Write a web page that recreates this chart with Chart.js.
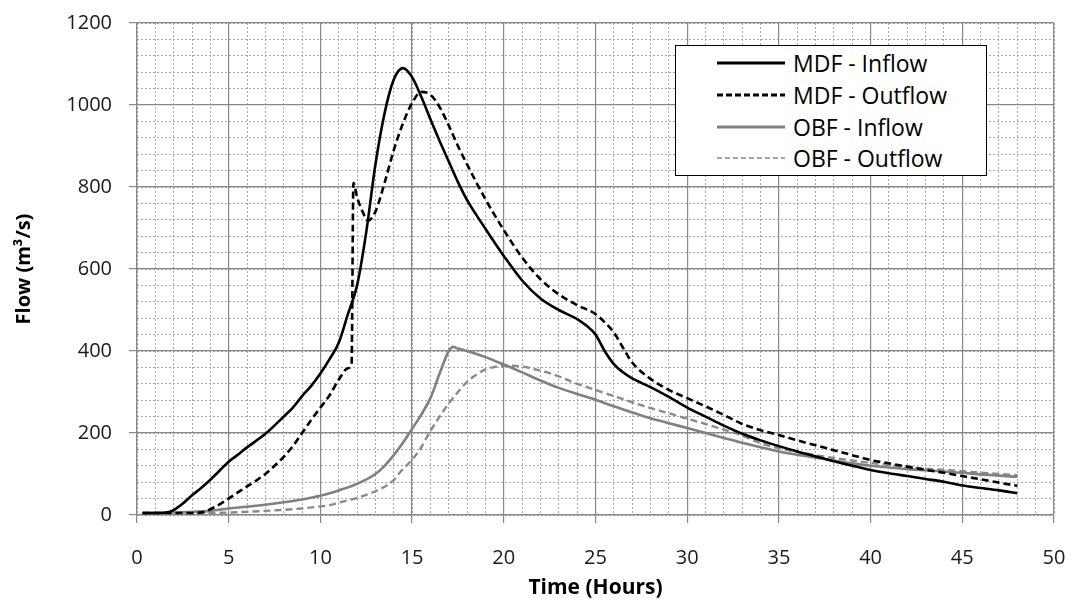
<!DOCTYPE html>
<html><head><meta charset="utf-8">
<script src="https://cdn.jsdelivr.net/npm/chart.js@4.4.1/dist/chart.umd.min.js"></script>
<style>
html,body{margin:0;padding:0;background:#fff;}
#wrap{position:relative;width:1074px;height:602px;}
#legend{position:absolute;left:675px;top:45px;width:312px;height:131px;border:1.5px solid #000;box-sizing:border-box;background:#fff;font-family:'Open Sans',sans-serif;font-size:23px;color:#000;}
.row{position:absolute;left:0;height:32px;line-height:32px;white-space:nowrap;}
.row svg{position:absolute;left:41px;top:0;}
.row span{position:absolute;left:117px;top:0;}
</style></head>
<body>
<div id="wrap"><canvas id="c" width="1074" height="602"></canvas><div id="legend"></div></div>
<script>
// ---- data ----
const seriesNames = ['MDF - Inflow', 'MDF - Outflow', 'OBF - Inflow', 'OBF - Outflow'];
const xTickStep = 5, yTickStep = 200;

const mdfInflowT = [0.3,1,1.6,2,2.5,3,3.5,4,4.5,5,5.5,6,7,8,8.5,9,9.5,10,10.5,11,11.5,12,12.5,13,13.5,14,14.5,15,15.5,16,16.5,17,17.5,18,18.5,19,20,21,22,23,24,24.5,25,25.5,26,26.5,27,28,29,30,31,32,33,34,35,36,37,38,39,40,41,42,43,44,45,46,47,48];
const mdfInflowQ = [5,5,6,12,28,48,66,86,108,130,147,165,198,240,262,290,315,345,380,420,490,560,690,855,980,1062,1090,1068,1020,965,912,862,812,768,732,698,632,572,528,500,478,462,440,400,368,348,333,312,288,262,240,218,198,182,168,155,143,131,120,110,102,95,88,81,72,66,60,53];

const mdfOutflowT = [0.3,3,3.6,4,4.5,5,5.5,6,6.5,7,7.5,8,8.5,9,9.5,10,10.5,11,11.5,11.7,11.8,12,12.3,12.6,13,13.5,14,14.5,15,15.5,16,16.5,17,17.5,18,19,20,21,22,23,24,25,25.5,26,26.5,27,28,29,30,31,32,33,34,35,36,37,38,39,40,41,42,43,44,45,46,47,48];
const mdfOutflowQ = [5,5,7,14,26,40,55,70,84,100,120,142,168,200,232,262,292,330,358,370,810,775,740,718,740,810,890,955,1005,1032,1025,995,950,900,855,770,695,628,575,538,512,490,470,445,408,372,332,305,285,265,244,222,207,195,182,170,158,146,134,126,118,110,103,95,87,79,71];

const obfInflowT = [0.3,2,4,5,6,7,8,9,10,10.5,11,12,13,13.5,14,14.5,15,15.5,16,16.5,17,17.25,17.5,18,19,20,21,22,23,24,25,26,27,28,29,30,31,32,33,34,35,36,37,38,39,40,41,42,43,44,45,46,47,48];
const obfInflowQ = [5,6,10,16,20,25,31,38,47,53,60,76,100,120,146,176,210,245,285,345,400,410,406,400,385,367,348,328,310,295,281,265,250,236,224,212,200,188,176,165,155,147,140,133,126,120,116,112,109,106,103,99,96,93];

const obfOutflowT = [0.3,3,5,7,9,10,10.5,11,12,13,14,14.3,15,15.4,16,16.5,17,17.5,18,18.5,19,19.5,20,20.5,21,22,22.5,23,24,25,26,27,28,29,30,31,32,33,34,35,36,37,38,39,40,41,42,43,44,45,46,47,48];
const obfOutflowQ = [3,4,6,10,16,21,24,30,42,58,85,102,135,158,205,240,272,300,325,342,355,361,364,364,362,352,346,338,320,305,290,275,261,248,235,222,208,194,175,163,154,146,139,133,127,122,117,113,110,107,103,100,97];

const xMin = 0, xMax = 50, yMin = 0, yMax = 1200;

const pts = (t, q) => t.map((v, i) => ({x: v, y: q[i]}));

const FONT = "'Open Sans', sans-serif";
const datasets = [
  {label: seriesNames[0], data: pts(mdfInflowT, mdfInflowQ), borderColor:'#000', borderWidth:2.6, borderDash:[]},
  {label: seriesNames[1], data: pts(mdfOutflowT, mdfOutflowQ), borderColor:'#000', borderWidth:2.6, borderDash:[7,4]},
  {label: seriesNames[2], data: pts(obfInflowT, obfInflowQ), borderColor:'#808080', borderWidth:2.6, borderDash:[]},
  {label: seriesNames[3], data: pts(obfOutflowT, obfOutflowQ), borderColor:'#8a8a8a', borderWidth:2.4, borderDash:[7,4]}
].map(d => Object.assign(d, {xAxisID:'x', yAxisID:'y', pointRadius:0, fill:false, cubicInterpolationMode:'monotone'}));

const chart = new Chart(document.getElementById('c'), {
  type: 'line',
  data: {datasets},
  options: {
    responsive:false, animation:false,
    layout:{padding:{top:23,right:20,left:0,bottom:0}},
    plugins:{legend:{display:false}, tooltip:{enabled:false}},
    scales:{
      x:{type:'linear', position:'bottom', min:xMin, max:xMax,
        ticks:{stepSize:xTickStep, padding:23, color:'#1a1a1a', font:{family:FONT, size:20}, maxRotation:0, callback:v => String(v)},
        grid:{color:'#888', lineWidth:1.2, tickLength:8, tickColor:'#888'},
        border:{color:'#888', width:1.2},
        title:{display:true, text:'Time (Hours)', color:'#000', font:{family:FONT, size:21, weight:'bold'}, padding:{top:0,bottom:1}},
        afterFit(s){ s.height = 87; s.paddingLeft = 0; s.paddingRight = 0; }
      },
      y:{type:'linear', position:'left', min:yMin, max:yMax,
        ticks:{stepSize:yTickStep, padding:17, color:'#1a1a1a', font:{family:FONT, size:20}, callback:v => String(v)},
        grid:{color:'#888', lineWidth:1.2, tickLength:8, tickColor:'#888'},
        border:{color:'#888', width:1.2},
        title:{display:true, text:'Flow (m³/s)', color:'#000', font:{family:FONT, size:20, weight:'bold'}, padding:{top:12,bottom:0}},
        afterFit(s){ s.width = 137; s.paddingTop = 0; s.paddingBottom = 0; }
      },
      xMinor:{type:'linear', position:'bottom', min:xMin, max:xMax,
        ticks:{display:false, stepSize:1},
        grid:{color:'#a8a8a8', lineWidth:1, drawTicks:false, z:-2},
        border:{display:false, dash:[2,2]},
        afterFit(s){ s.height = 0; s.paddingLeft = 0; s.paddingRight = 0; }
      },
      yMinor:{type:'linear', position:'left', min:yMin, max:yMax,
        ticks:{display:false, stepSize:40},
        grid:{color:'#a8a8a8', lineWidth:1, drawTicks:false, z:-2},
        border:{display:false, dash:[2,2]},
        afterFit(s){ s.width = 0; s.paddingTop = 0; s.paddingBottom = 0; }
      }
    }
  }
});

// HTML legend built from the chart's datasets
const leg = document.getElementById('legend');
const rowCenters = [17, 49, 81, 112];
chart.data.datasets.forEach((ds, i) => {
  const row = document.createElement('div');
  row.className = 'row';
  row.style.top = (rowCenters[i] - 16) + 'px';
  const w = i === 3 ? 1.6 : 3;
  const dash = ds.borderDash.length ? (i === 3 ? '5,3' : '6,3') : 'none';
  row.innerHTML = '<svg width="70" height="32"><line x1="0" y1="16" x2="68" y2="16" stroke="' + ds.borderColor +
    '" stroke-width="' + w + '" stroke-dasharray="' + dash + '"/></svg><span>' + ds.label + '</span>';
  leg.appendChild(row);
});
</script>
</body></html>
